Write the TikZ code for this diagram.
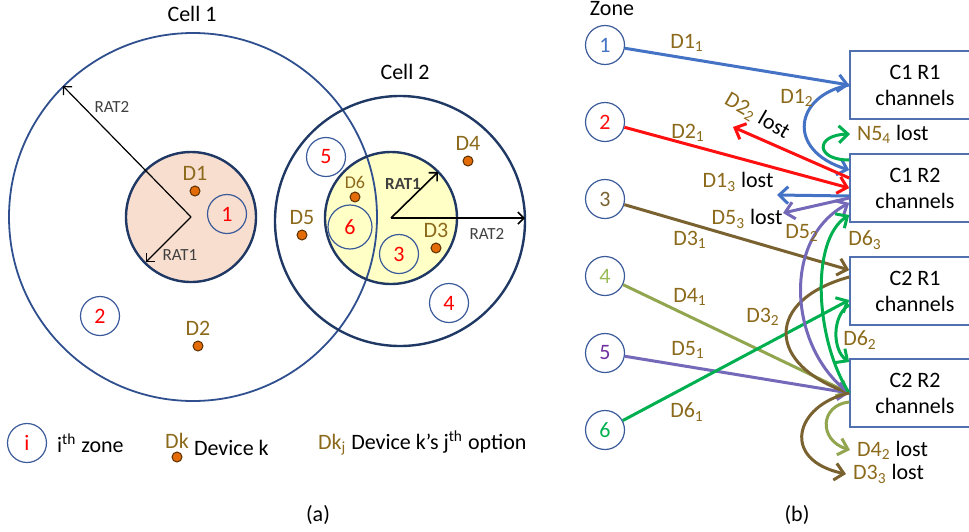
\documentclass[tikz,border=0pt]{standalone}
\usepackage{fontspec}
\setmainfont{Carlito}
\usetikzlibrary{arrows.meta,calc,positioning}
\definecolor{navy}{HTML}{1F3864}
\definecolor{cellline}{HTML}{2F4F8F}
\definecolor{peach}{HTML}{F8DECF}
\definecolor{paleyellow}{HTML}{FFFFC6}
\definecolor{zoneline}{HTML}{3A5A9A}
\definecolor{chanline}{HTML}{5070B0}
\definecolor{devorange}{HTML}{E36C09}
\definecolor{devedge}{HTML}{5A3000}
\definecolor{optgold}{HTML}{8C6A1C}
\definecolor{ratgray}{HTML}{404040}
\definecolor{oneblue}{HTML}{4472C4}
\definecolor{twored}{HTML}{FF1010}
\definecolor{threebrown}{HTML}{7A6230}
\definecolor{fourgreen}{HTML}{92A54F}
\definecolor{fournum}{HTML}{9BBB59}
\definecolor{fivepurple}{HTML}{7468B8}
\definecolor{fivenum}{HTML}{7030A0}
\definecolor{sixgreen}{HTML}{00B050}
\def\cellone{(193,217) circle (184)}
\def\celltwo{(400,221) circle (125)}
\def\ratone{(191,217) circle (65)}
\def\rattwo{(391,218) circle (66)}
\newcommand{\dopt}[2]{D#1\textsubscript{#2}}
\tikzset{zone/.style={circle,draw=zoneline,line width=0.6pt,minimum size=19.5pt,inner sep=0pt},
  dev/.style={circle,fill=devorange,draw=devedge,line width=0.5pt,minimum size=5pt,inner sep=0pt},
  chan/.style={draw=chanline,line width=0.8pt,minimum width=65pt,minimum height=34pt,align=center},
  opt/.style={text=optgold},
  ratlbl/.style={text=ratgray,font=\fontsize{8.5}{10}\selectfont},
  ratarrow/.style={-{Straight Barb[length=3pt,width=6pt]}},
  link/.style={-{Straight Barb[length=4.5pt,width=8.5pt]},line width=1.5pt}}

\begin{document}
\begin{tikzpicture}[x=0.5pt,y=-0.5pt,font=\fontsize{11}{13}\selectfont]
\useasboundingbox (0,0) rectangle (969,531);
\fill[peach]\ratone;
\fill[paleyellow]\rattwo;
\draw[cellline,line width=0.9pt]\cellone;
\draw[navy,line width=1.2pt]\celltwo;
\draw[navy,line width=1.2pt]\ratone;
\draw[navy,line width=1.2pt]\rattwo;
\node (cell1) at (192,14) {Cell 1};
\node (cell2) at (405,72) {Cell 2};
\coordinate (o1) at (191,217);
\coordinate (o2) at (391,218);
\coordinate (e12) at (63,86);
\coordinate (e11) at (146,262);
\coordinate (e21) at (438,172);
\coordinate (e22) at (525,218);
\draw[ratarrow,line width=0.6pt] (o1) -- (e12);
\draw[ratarrow,line width=0.6pt] (o1) -- (e11);
\draw[ratarrow,line width=0.8pt] (o2) -- (e21);
\draw[ratarrow,line width=0.8pt] (o2) -- (e22);
\node[ratlbl] (rt12) at (112,107) {RAT2};
\node[ratlbl] (rt11) at (180,255) {RAT1};
\node[ratlbl,font=\fontsize{8.5}{10}\bfseries] (rt21) at (403,184) {RAT1};
\node[ratlbl] (rt22) at (487,234) {RAT2};
\node[zone,text=red] (a1) at (227,214) {1};
\node[zone,text=red] (a2) at (100,316) {2};
\node[zone,text=red] (a3) at (399,254) {3};
\node[zone,text=red] (a4) at (449,303) {4};
\node[zone,text=red] (a5) at (326,157) {5};
\node[zone,text=red,minimum size=22pt] (a6) at (350,227) {6};
\node[dev] (d1) at (195,191) {};
\node[dev] (d2) at (198,346) {};
\node[dev] (d3) at (436,248) {};
\node[dev] (d4) at (468,161) {};
\node[dev] (d5) at (302,235) {};
\node[dev] (d6) at (355,197) {};
\node[opt,above=-1pt of d1] {D1};
\node[opt,above=-1pt of d2] {D2};
\node[opt,above=-1pt of d3] {D3};
\node[opt,above=-1pt of d4] {D4};
\node[opt,above=-1pt of d5] {D5};
\node[opt,above=-2pt of d6,font=\fontsize{9}{10}\selectfont] {D6};
\node[zone,text=red] (li) at (27,443) {i};
\node[anchor=west] (lz) at (50,443) {i\textsuperscript{th} zone};
\node[dev] (ld) at (177,457) {};
\node[opt,above=-2pt of ld] {Dk};
\node[anchor=west] (lk) at (187,448) {Device k};
\node[anchor=west] (lj) at (311,443) {\textcolor{optgold}{Dk\textsubscript{j}} Device k’s j\textsuperscript{th} option};
\node (capa) at (318,515) {(a)};

\node (zone) at (612,9) {Zone};
\foreach \i/\c in {1/oneblue,2/twored,3/threebrown,4/fournum,5/fivenum,6/sixgreen}
  \node[zone,text=\c] (z\i) at (605,{45+77*(\i-1)}) {\i};
\node[chan] (c1r1) at (915,85) {C1 R1\\channels};
\node[chan] (c1r2) at (915,188) {C1 R2\\channels};
\node[chan] (c2r1) at (915,291) {C2 R1\\channels};
\node[chan] (c2r2) at (915,393) {C2 R2\\channels};
\node[anchor=west] (n54) at (850,134) {\textcolor{optgold}{N5\textsubscript{4}} lost};
\node[anchor=west] (l42) at (850,450) {\textcolor{optgold}{\dopt{4}{2}} lost};
\node[anchor=west] (l33) at (846,474) {\textcolor{optgold}{\dopt{3}{3}} lost};
\node (l13) at (738,182) {\textcolor{optgold}{\dopt{1}{3}} lost};
\node (l53) at (747,219) {\textcolor{optgold}{\dopt{5}{3}} lost};
\node[rotate=-30] (l22) at (757,116) {\textcolor{optgold}{\dopt{2}{2}} lost};
\coordinate (t22) at (733,127);
\coordinate (t13) at (777,195);
\coordinate (t53) at (783,213);

\draw[link,oneblue] (z1) -- (c1r1.west);
\draw[link,twored] (z2) -- (c1r2.west);
\draw[link,threebrown] (z3) -- ([yshift=10.5pt]c2r1.west);
\draw[link,fourgreen] (z4) -- (c2r2.west);
\draw[link,fivepurple] (z5) -- (c2r2.west);
\draw[link,sixgreen] (z6) -- ([yshift=-4.5pt]c2r1.west);
\draw[link,oneblue] (c1r1.west) .. controls (795,95) and (785,150) .. ([yshift=9pt]c1r2.west);
\draw[link,sixgreen] ([yshift=14pt]c1r2.west) .. controls (815,160) and (815,135) .. (n54.west);
\draw[link,twored] ([yshift=5pt]c1r2.west) -- (t22);
\draw[link,oneblue] ([yshift=-4pt]c1r2.west) -- (t13);
\draw[link,fivepurple] ([yshift=-5pt]c1r2.west) -- (t53);
\draw[threebrown,line width=1.5pt] ([yshift=7pt]c2r1.west) .. controls (765,300) and (765,365) .. (c2r2.west);
\draw[link,fivepurple] (c2r2.west) .. controls (790,350) and (780,240) .. ([yshift=-7.5pt]c1r2.west);
\draw[link,sixgreen] (c2r2.west) .. controls (815,340) and (810,240) .. ([yshift=-13.5pt]c1r2.west);
\draw[link,sixgreen] ([yshift=-7pt]c2r1.west) .. controls (832,315) and (832,350) .. ([yshift=15.5pt]c2r2.west);
\draw[link,threebrown] (c2r2.west) .. controls (795,405) and (780,460) .. (l33.west);
\draw[link,fourgreen] ([yshift=-4.5pt]c2r2.west) .. controls (820,405) and (818,440) .. (l42.west);
\node[opt] at (687,43) {\dopt{1}{1}};
\node[opt] at (797,98) {\dopt{1}{2}};
\node[opt] at (688,133) {\dopt{2}{1}};
\node[opt] at (690,240) {\dopt{3}{1}};
\node[opt] at (763,317) {\dopt{3}{2}};
\node[opt] at (690,297) {\dopt{4}{1}};
\node[opt] at (688,350) {\dopt{5}{1}};
\node[opt] at (802,233) {\dopt{5}{2}};
\node[opt] at (687,412) {\dopt{6}{1}};
\node[opt] at (860,340) {\dopt{6}{2}};
\node[opt] at (865,240) {\dopt{6}{3}};
\node (capb) at (797,515) {(b)};
\end{tikzpicture}
\end{document}
